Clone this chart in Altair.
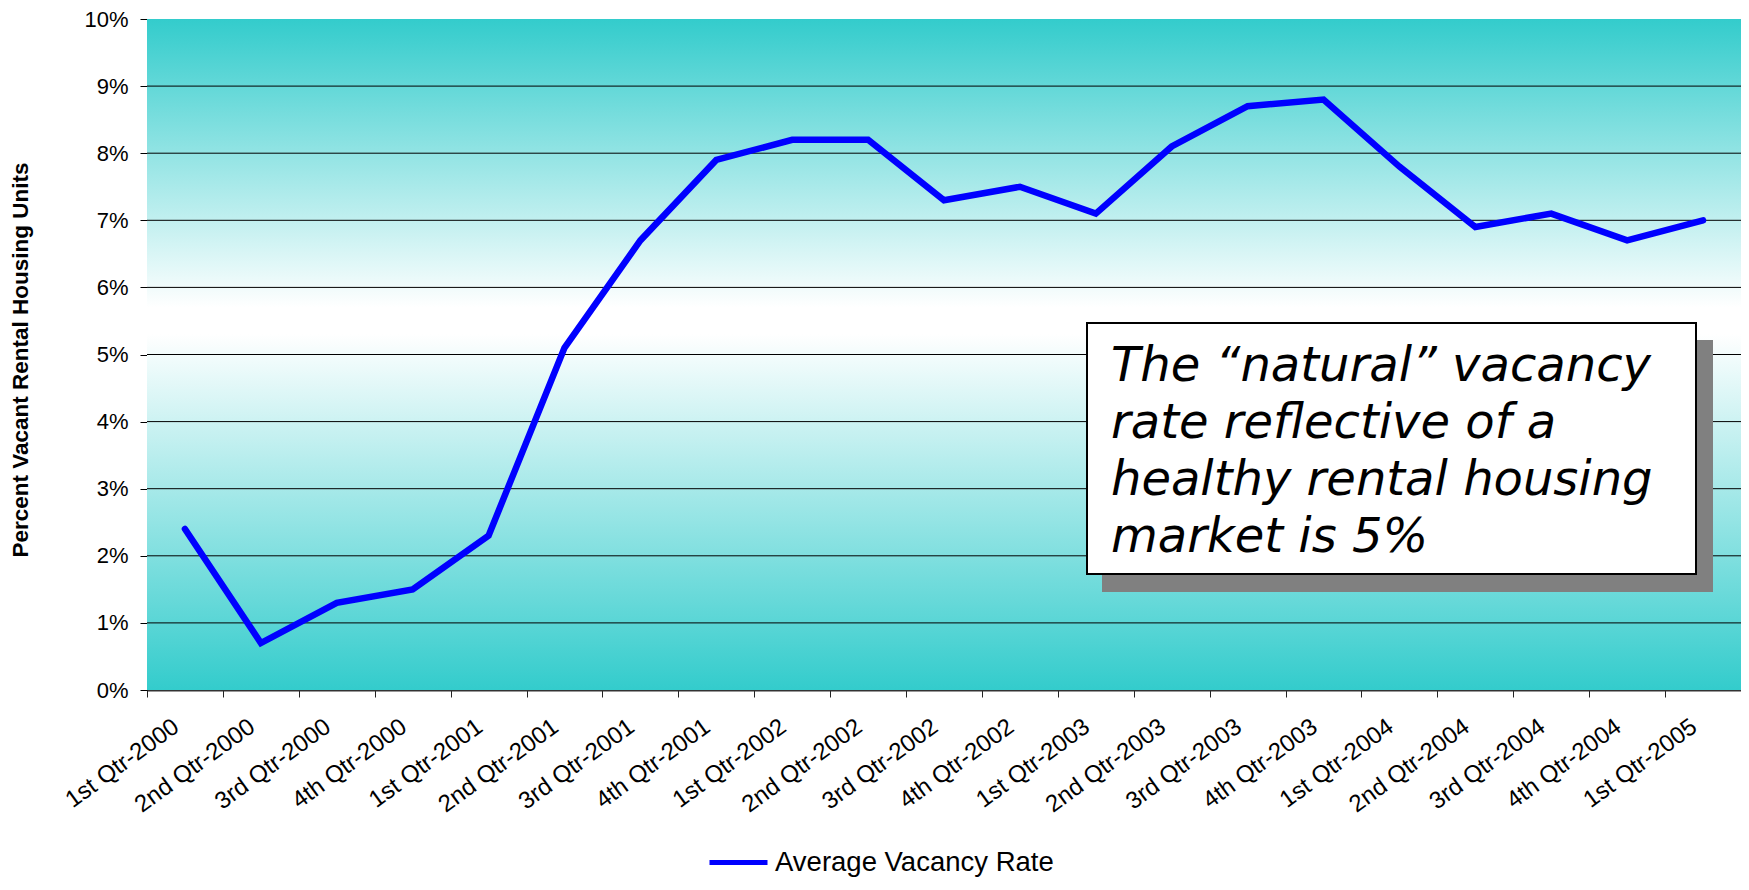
import altair as alt
import pandas as pd

quarters = [
    "1st Qtr-2000", "2nd Qtr-2000", "3rd Qtr-2000", "4th Qtr-2000",
    "1st Qtr-2001", "2nd Qtr-2001", "3rd Qtr-2001", "4th Qtr-2001",
    "1st Qtr-2002", "2nd Qtr-2002", "3rd Qtr-2002", "4th Qtr-2002",
    "1st Qtr-2003", "2nd Qtr-2003", "3rd Qtr-2003", "4th Qtr-2003",
    "1st Qtr-2004", "2nd Qtr-2004", "3rd Qtr-2004", "4th Qtr-2004",
    "1st Qtr-2005",
]
vacancy_pct = [2.4, 0.7, 1.3, 1.5, 2.3, 5.1, 6.7, 7.9, 8.2, 8.2, 7.3, 7.5,
               7.1, 8.1, 8.7, 8.8, 7.8, 6.9, 7.1, 6.7, 7.0]
series_name = "Average Vacancy Rate"
y_title = "Percent Vacant Rental Housing Units"
y_ticks_pct = [0, 1, 2, 3, 4, 5, 6, 7, 8, 9, 10]
grid_pct = [1, 2, 3, 4, 5, 6, 7, 8, 9]
note_lines = [
    "The \u201cnatural\u201d vacancy",
    "rate reflective of a",
    "healthy rental housing",
    "market is 5%",
]

df = pd.DataFrame({
    "quarter": quarters,
    "rate": [v / 100 for v in vacancy_pct],
    "series": [series_name] * len(quarters),
})
grid_df = pd.DataFrame({"rate": [v / 100 for v in grid_pct]})

W, H = 1594, 671
FONT = "Liberation Sans"

y_enc = alt.Y(
    "rate:Q",
    scale=alt.Scale(domain=[0, 0.1], nice=False),
    axis=alt.Axis(
        values=[v / 100 for v in y_ticks_pct], format=".0%",
        title=y_title, titleFont=FONT, titleFontSize=22.5, titleFontWeight="bold",
        titleColor="black", titleX=-127, titleY=H / 2 + 5, titleAngle=270,
        titleAlign="center", titleBaseline="middle",
        labelFontSize=22, labelFont=FONT, labelColor="black", labelPadding=12,
        tickSize=7, tickColor="black", domainColor="black", grid=False,
    ),
)

gradient = alt.LinearGradient(
    gradient="linear",
    stops=[
        alt.GradientStop(color="#33CCCC", offset=0),
        alt.GradientStop(color="#FFFFFF", offset=0.43),
        alt.GradientStop(color="#FFFFFF", offset=0.47),
        alt.GradientStop(color="#33CCCC", offset=1),
    ],
    x1=0, x2=0, y1=0, y2=1,
)

bg_data = alt.Data(values=[{"k": 1}])
background = alt.Chart(bg_data).mark_rect(fill=gradient, strokeWidth=0).encode(
    x=alt.value(0), x2=alt.value(W), y=alt.value(0), y2=alt.value(H)
)

grid = alt.Chart(grid_df).mark_rule(color="black", strokeWidth=1).encode(y=y_enc)

line = alt.Chart(df).mark_line(strokeWidth=6.5, strokeCap="round").encode(
    x=alt.X(
        "quarter:N", sort=quarters, bandPosition=0.5,
        scale=alt.Scale(type="band", paddingInner=0, paddingOuter=0),
        axis=alt.Axis(
            title=None, labelAngle=-36, labelAlign="right", labelBaseline="middle",
            labelFontSize=24, labelFont=FONT, labelColor="black",
            labelPadding=27, labelOffset=-9, labelOverlap=False, labelLimit=0,
            tickBand="extent", tickSize=7, tickColor="#222",
            domainColor="#333", domainWidth=2, grid=False,
        ),
    ),
    y=y_enc,
    color=alt.Color(
        "series:N",
        scale=alt.Scale(range=["#0000FF"]),
        legend=alt.Legend(
            title=None, orient="none", legendX=560, legendY=812,
            symbolType="stroke", symbolStrokeWidth=5, symbolSize=3364,
            labelFontSize=27.5, labelFont=FONT, labelColor="black",
            labelOffset=5, labelLimit=0, padding=0,
        ),
    ),
)

note_data = alt.Data(values=[{"note": "\n".join(note_lines)}])

shadow = alt.Chart(note_data).mark_rect(color="#808080").encode(
    x=alt.value(955), x2=alt.value(1566), y=alt.value(321), y2=alt.value(573)
)
box = alt.Chart(note_data).mark_rect(fill="white", stroke="black", strokeWidth=2).encode(
    x=alt.value(940), x2=alt.value(1549), y=alt.value(304), y2=alt.value(555)
)
note = alt.Chart(note_data).mark_text(
    align="left", baseline="alphabetic", font="DejaVu Sans", fontStyle="italic",
    fontSize=48, lineHeight=57, lineBreak="\n", color="black",
).encode(x=alt.value(964), y=alt.value(362), text="note:N")

chart = alt.layer(background, grid, line, shadow, box, note).properties(
    width=W, height=H,
    padding={"left": 139, "top": 11, "right": 0, "bottom": 188},
    autosize=alt.AutoSizeParams(type="none"),
).configure_view(strokeWidth=0)

chart.save("out.html", embed_options={"renderer": "svg", "actions": False})
